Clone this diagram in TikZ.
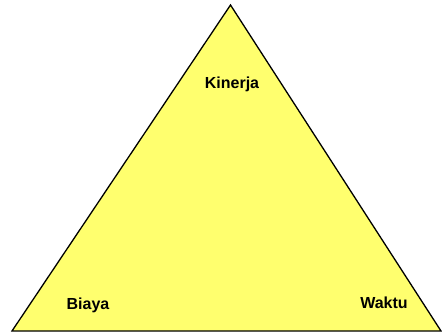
\documentclass[tikz,border=0pt]{standalone}
\usepackage{fontspec}
\setmainfont{Liberation Sans}
\definecolor{tri}{RGB}{255,255,110}
\begin{document}
\begin{tikzpicture}[x=1pt,y=-1pt,
  lbl/.style={font=\bfseries\fontsize{16}{18}\selectfont, anchor=base, inner sep=0pt}]
\useasboundingbox (0,0) rectangle (442,332);
\coordinate (top) at (230.5,5);
\coordinate (bl) at (12,331);
\coordinate (br) at (441,331);
\filldraw[fill=tri, draw=black, line width=1.3pt, line join=miter] (top) -- (bl) -- (br) -- cycle;
\node[lbl] (kinerja) at (232,88) {Kinerja};
\node[lbl] (biaya) at (88,309) {Biaya};
\node[lbl] (waktu) at (384,308) {Waktu};
\end{tikzpicture}
\end{document}
